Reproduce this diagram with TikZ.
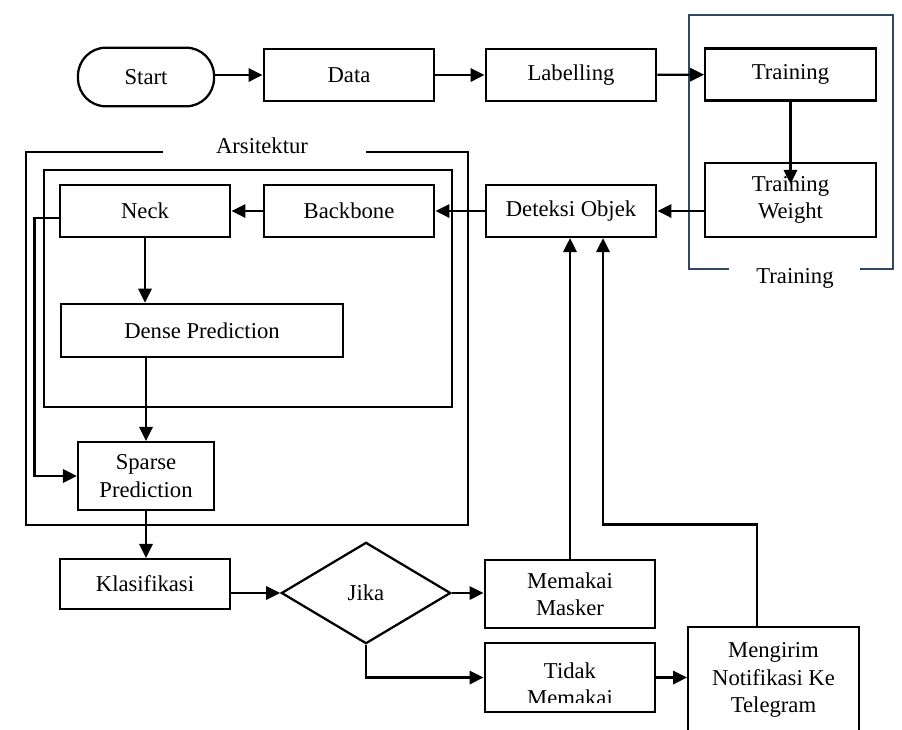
\documentclass[tikz,border=0pt]{standalone}
\usepackage{fontspec}
\setmainfont{Liberation Serif}
\usetikzlibrary{arrows.meta,shapes.geometric}

\tikzset{
  box/.style={draw,rectangle,align=center,inner sep=2pt,minimum width=128pt,minimum height=39pt},
  startbox/.style={draw,rectangle,rounded corners=21pt,minimum width=102pt,minimum height=44pt},
  choice/.style={draw,diamond,inner sep=0pt,minimum width=127pt,minimum height=76pt},
  arr/.style={-{Triangle[length=10.5pt,width=10pt]}},
}
\definecolor{trainblue}{RGB}{47,72,102}

\begin{document}
\begin{tikzpicture}[x=0.75pt,y=-0.75pt,line width=1.7pt,font=\fontsize{17}{20.5}\selectfont]
\useasboundingbox (0,0) rectangle (902,729);
% groups
\draw (163,152) -- (26,152) -- (26,525) -- (468,525) -- (468,152) -- (366,152);
\draw (44,170) rectangle (452,407);
\draw[trainblue,line width=1.5pt] (729,269) -- (689,269) -- (689,15) -- (893,15) -- (893,269) -- (860,269);
\node (arsitektur) at (262,146) {Arsitektur};
\node (training) at (795,278) {Training};

% top row
\node[startbox] (start) at (146,77) {Start};
\node[box] (data) at (349,75) {Data};
\node[box] (label) at (571,75) {Labelling};
\node[box] (train) at (790.5,74.5) {Training};
\node[box,minimum height=55.5pt] (weight) at (790.5,200) {Training\\Weight};

% architecture
\node[box] (deteksi) at (571,211) {Deteksi Objek};
\node[box] (backbone) at (349,211) {Backbone};
\node[box] (neck) at (145,211) {Neck};
\node[box,minimum width=211.5pt,minimum height=40pt] (dense) at (202,330.5) {Dense Prediction};
\node[box,minimum width=102pt,minimum height=51pt] (sparse) at (146,476) {Sparse\\Prediction};

% decision
\node[box,minimum height=37.5pt] (klas) at (145,584) {Klasifikasi};
\node[choice] (jika) at (366,593) {Jika};
\node[box,minimum height=51pt] (masker) at (570,594) {Memakai\\Masker};
\node[box,minimum height=51.5pt] (tidak) at (570,677.5) {};
\begin{scope}
\clip (tidak.north west) rectangle ([yshift=7.5pt]tidak.south east);
\node[align=center] (tidaktext) at ([yshift=-5pt]tidak.center) {Tidak\\Memakai};
\end{scope}
\node[box,minimum height=80pt] (kirim) at (773.5,680) {Mengirim\\Notifikasi Ke\\Telegram};

\draw[arr] (start.east |- data.west) -- (data.west);
\draw[arr] (data) -- (label);
\draw[arr] (label) -- (train);
\draw[arr] (train.south) -- ([yshift=-16.5pt]weight.north);
\draw[arr] (weight.west |- deteksi.east) -- (deteksi.east);
\draw[arr] (deteksi) -- (backbone);
\draw[arr] (backbone) -- (neck);
\draw[arr] (neck.south) -- (neck.south |- dense.north);
\draw[arr] ([yshift=-5pt]neck.west) -- ++(-24,0) |- (sparse.west);
\draw[arr] (sparse.north |- dense.south) -- (sparse.north);
\draw[arr] (sparse.south) -- (sparse.south |- klas.north);
\draw[arr] (klas.east |- jika.west) -- (jika.west);
\draw[arr] (jika.east) -- (jika.east -| masker.west);
\draw[arr] (jika.south) |- (tidak.west);
\draw[arr] (tidak.east) -- (tidak.east -| kirim.west);
\draw[arr] (masker.north) -- (masker.north |- deteksi.south);
\draw[arr] ([xshift=-12.4pt]kirim.north) -- ++(0,-101) -| ([xshift=24pt]deteksi.south);
\end{tikzpicture}
\end{document}
